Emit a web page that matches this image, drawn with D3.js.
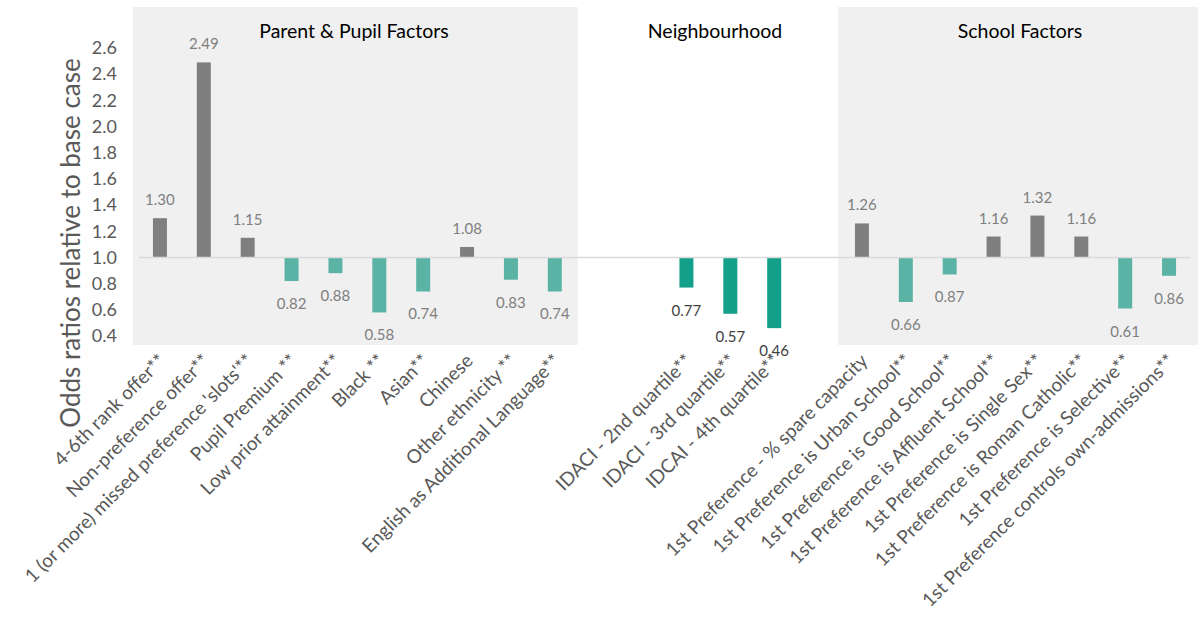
<!DOCTYPE html>
<html>
<head>
<meta charset="utf-8">
<script src="https://cdn.jsdelivr.net/npm/d3@7"></script>
<style>
  html, body { margin: 0; padding: 0; background: #ffffff; }
  svg { display: block; font-family: Lato, "Open Sans", sans-serif; }
</style>
</head>
<body>
<svg id="chart" width="1198" height="622"></svg>
<script>
// Odds ratios of each factor relative to the base case (1.0)
const parentLabels = [
  "4-6th rank offer**",
  "Non-preference offer**",
  "1 (or more) missed preference 'slots'**",
  "Pupil Premium **",
  "Low prior attainment**",
  "Black **",
  "Asian**",
  "Chinese",
  "Other ethnicity **",
  "English as Additional Language**"
];
const parentValues = [1.30, 2.49, 1.15, 0.82, 0.88, 0.58, 0.74, 1.08, 0.83, 0.74];

const neighbourhoodLabels = [
  "IDACI - 2nd quartile**",
  "IDACI - 3rd quartile**",
  "IDCAI - 4th quartile**"
];
const neighbourhoodValues = [0.77, 0.57, 0.46];

const schoolLabels = [
  "1st Preference - % spare capacity",
  "1st Preference is Urban School**",
  "1st Preference is Good School**",
  "1st Preference is Affluent School**",
  "1st Preference is Single Sex**",
  "1st Preference is Roman Catholic**",
  "1st Preference is Selective**",
  "1st Preference controls own-admissions**"
];
const schoolValues = [1.26, 0.66, 0.87, 1.16, 1.32, 1.16, 0.61, 0.86];

const groupTitles = ["Parent & Pupil Factors", "Neighbourhood", "School Factors"];
const yTicks = [0.4, 0.6, 0.8, 1.0, 1.2, 1.4, 1.6, 1.8, 2.0, 2.2, 2.4, 2.6];
const baseCase = 1.0;

// Build rows; blank slots separate the groups on the category axis
const rows = [];
parentLabels.forEach((l, i) => rows.push({ key: "p" + i, label: l, value: parentValues[i], group: 0 }));
rows.push({ key: "gap1", label: "", value: null }, { key: "gap2", label: "", value: null });
neighbourhoodLabels.forEach((l, i) => rows.push({ key: "n" + i, label: l, value: neighbourhoodValues[i], group: 1 }));
rows.push({ key: "gap3", label: "", value: null });
schoolLabels.forEach((l, i) => rows.push({ key: "s" + i, label: l, value: schoolValues[i], group: 2 }));

const svg = d3.select("#chart");

const x = d3.scaleBand()
  .domain(rows.map(d => d.key))
  .range([138, 1191])
  .paddingInner(0.68)
  .paddingOuter(0.34);

const y = d3.scaleLinear().domain([0.4, 2.6]).range([336, 48]);

// Shaded group panels
const panelTop = 7, panelBottom = 345;
svg.append("rect")
  .attr("x", 133).attr("y", panelTop)
  .attr("width", x("gap1") - x.step() * x.paddingInner() / 2 - 133 + 1)
  .attr("height", panelBottom - panelTop)
  .attr("fill", "#f0f0f0");
const schoolLeft = x("s0") - x.step() * x.paddingInner() / 2 - 2;
svg.append("rect")
  .attr("x", schoolLeft).attr("y", panelTop)
  .attr("width", 1198 - schoolLeft)
  .attr("height", panelBottom - panelTop)
  .attr("fill", "#f0f0f0");

// Group titles
const titleX = [354, 715, 1020];
svg.selectAll("text.group")
  .data(groupTitles)
  .join("text")
  .attr("class", "group")
  .attr("x", (d, i) => titleX[i])
  .attr("y", 38)
  .attr("text-anchor", "middle")
  .attr("font-size", 19.5)
  .attr("fill", "#000000")
  .text(d => d);

// Y axis tick labels (no axis line)
const yAxis = svg.append("g")
  .attr("transform", "translate(117,0)")
  .call(d3.axisLeft(y).tickValues(yTicks).tickFormat(d3.format(".1f")).tickSize(0).tickPadding(0));
yAxis.select(".domain").remove();
yAxis.selectAll("text")
  .attr("font-family", "Lato, 'Open Sans', sans-serif")
  .attr("font-size", 18)
  .attr("fill", "#595959");

// Y axis title
svg.append("text")
  .attr("transform", "translate(80,243) rotate(-90)")
  .attr("text-anchor", "middle")
  .attr("font-size", 26)
  .attr("fill", "#595959")
  .text("Odds ratios relative to base case");

const bars = rows.filter(d => d.value !== null);
const barColor = d => d.value >= baseCase ? "#7f7f7f" : (d.group === 1 ? "#13a08a" : "#5ab3a5");
const barW = 14;

// Bars grow from the base-case line
svg.selectAll("rect.bar")
  .data(bars)
  .join("rect")
  .attr("class", "bar")
  .attr("x", d => x(d.key) + x.bandwidth() / 2 - barW / 2)
  .attr("y", d => y(Math.max(d.value, baseCase)))
  .attr("width", barW)
  .attr("height", d => Math.abs(y(d.value) - y(baseCase)))
  .attr("fill", barColor);

// Base-case reference line
svg.append("line")
  .attr("x1", 139).attr("x2", 1191)
  .attr("y1", y(baseCase)).attr("y2", y(baseCase))
  .attr("stroke", "#d9d9d9")
  .attr("stroke-width", 1.5);

// Value labels
svg.selectAll("text.value")
  .data(bars)
  .join("text")
  .attr("class", "value")
  .attr("x", d => x(d.key) + x.bandwidth() / 2)
  .attr("y", d => d.value >= baseCase ? y(d.value) - 13 : y(d.value) + 28)
  .attr("text-anchor", "middle")
  .attr("font-size", 15)
  .attr("fill", d => d.group === 1 ? "#404040" : "#7f7f7f")
  .text(d => d3.format(".2f")(d.value));

// Category labels, rotated
svg.selectAll("text.cat")
  .data(bars)
  .join("text")
  .attr("class", "cat")
  .attr("transform", d => `translate(${x(d.key) + x.bandwidth() / 2 + 7},362) rotate(-45)`)
  .attr("text-anchor", "end")
  .attr("font-size", 19)
  .attr("fill", "#595959")
  .text(d => d.label);
</script>
</body>
</html>
